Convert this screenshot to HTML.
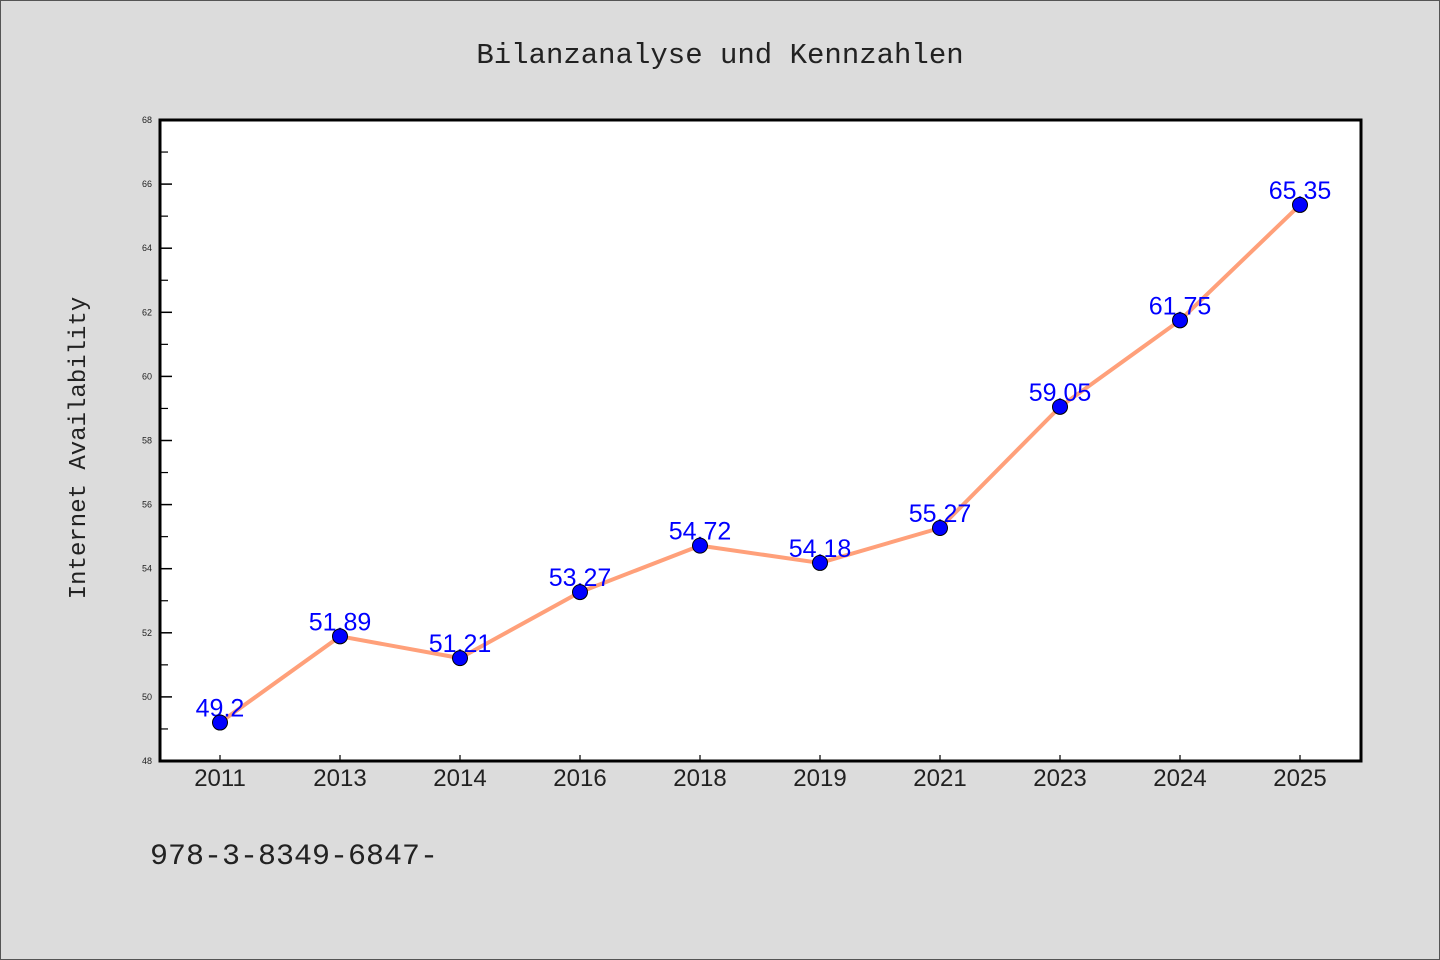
<!DOCTYPE html>
<html><head><meta charset="utf-8"><style>
html,body{margin:0;padding:0;background:#dcdcdc;}
svg{display:block;}
</style></head><body>
<svg id="chart" width="1440" height="960" xmlns="http://www.w3.org/2000/svg">
<rect x="0.5" y="0.5" width="1439" height="959" fill="#dcdcdc" stroke="#555"/>
<text x="720" y="63" text-anchor="middle" font-family="Liberation Mono, monospace" font-size="29" fill="#222">Bilanzanalyse und Kennzahlen</text>
<text transform="translate(85,448) rotate(-90)" text-anchor="middle" font-family="Liberation Mono, monospace" font-size="24" fill="#222">Internet Availability</text>
<text x="150" y="864" font-family="Liberation Mono, monospace" font-size="30" fill="#222">978-3-8349-6847-</text>
<rect x="160" y="120" width="1201" height="641" fill="#fff"/>
<g id="axes"></g>
<g id="series"></g>
<rect x="160" y="120" width="1201" height="641" fill="none" stroke="#000" stroke-width="3"/>
</svg>
<script>
const categories = ["2011","2013","2014","2016","2018","2019","2021","2023","2024","2025"];
const values = [49.2,51.89,51.21,53.27,54.72,54.18,55.27,59.05,61.75,65.35];
const valueLabels = ["49.2","51.89","51.21","53.27","54.72","54.18","55.27","59.05","61.75","65.35"];
const yTicks = [48,50,52,54,56,58,60,62,64,66,68];
const yMinorTicks = [49,51,53,55,57,59,61,63,65,67];
const NS="http://www.w3.org/2000/svg";
const L=160,R=1361,T=120,B=761,yMin=48,yMax=68;
function y(v){return B-(v-yMin)/(yMax-yMin)*(B-T);}
function x(i){const bw=(R-L-1)/categories.length;return L+bw*(i+0.5);}
function mk(tag,attrs,parent){const e=document.createElementNS(NS,tag);for(const k in attrs)e.setAttribute(k,attrs[k]);parent.appendChild(e);return e;}
const ax=document.getElementById('axes'), se=document.getElementById('series');
yTicks.forEach(v=>{
  const t=mk('line',{x1:L,x2:L+12,y1:y(v),y2:y(v),stroke:'#000','stroke-width':1.5},ax);
  
  
  const tx=mk('text',{x:L-8,y:y(v)+3,'text-anchor':'end','font-family':'Liberation Sans, sans-serif','font-size':9,fill:'#222'},ax);
  tx.textContent=v;
  
  
});
yMinorTicks.forEach(v=>{
  const t=mk('line',{x1:L,x2:L+8,y1:y(v),y2:y(v),stroke:'#000','stroke-width':1.2},ax);
  
  
});
categories.forEach((c,i)=>{
  const t=mk('line',{x1:x(i),x2:x(i),y1:B,y2:B-6,stroke:'#000','stroke-width':1.2},ax);
  
  
  const tx=mk('text',{x:x(i),y:B+25,'text-anchor':'middle','font-family':'Liberation Sans, sans-serif','font-size':24,fill:'#222'},ax);
  tx.textContent=c;
  
  
});
const pts=values.map((v,i)=>x(i)+','+y(v)).join(' ');
const pl=mk('polyline',{points:pts,fill:'none',stroke:'#ffa07a','stroke-width':4,'stroke-linejoin':'round'},se);


values.forEach((v,i)=>{
  const tx=mk('text',{x:x(i),y:y(v)-6,'text-anchor':'middle','font-family':'Liberation Sans, sans-serif','font-size':25,fill:'#0000ff'},se);
  tx.textContent=valueLabels[i];
  
  
});
values.forEach((v,i)=>{
  const c=mk('circle',{cx:x(i),cy:y(v),r:7.5,fill:'#0000ff',stroke:'#000','stroke-width':1},se);
  
  
});
</script>
</body></html>
